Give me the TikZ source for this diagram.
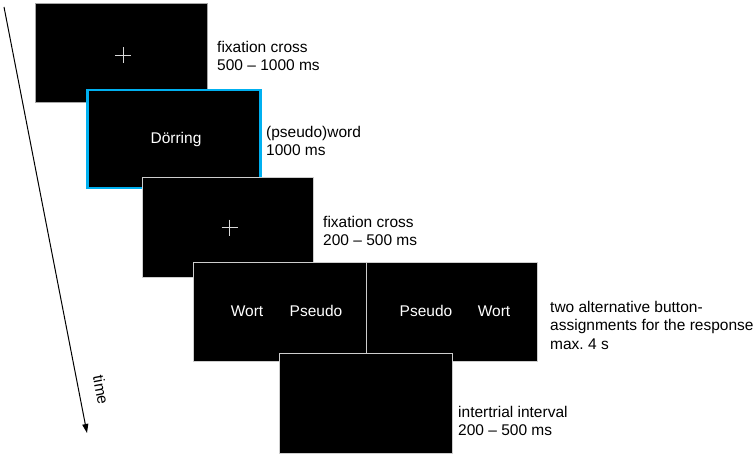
\documentclass[tikz,border=0pt]{standalone}
\usepackage{fontspec}
\setmainfont{Liberation Sans}
\usetikzlibrary{arrows.meta}
\definecolor{scrcyan}{RGB}{0,176,240}
\definecolor{scredge}{RGB}{205,205,205}
\frenchspacing
\tikzset{
  screen/.style={fill=black, draw=scredge, line width=1.2pt, anchor=north west, inner sep=0pt, minimum width=172pt, minimum height=99pt},
  wtext/.style={text=white, font=\fontsize{15.5pt}{18.5pt}\selectfont, inner sep=0pt},
  lab/.style={anchor=west, align=left, inner sep=0pt, font=\fontsize{15.5pt}{18.5pt}\selectfont},
  crossline/.style={draw=white!85!black, line width=1pt},
  timearrow/.style={line width=1pt, -{Triangle[length=9pt,width=6pt]}}
}
\begin{document}
\begin{tikzpicture}[x=1pt,y=-1pt]
\useasboundingbox (0,0) rectangle (755,457);
% screens
\node[screen, draw=gray!70, line width=0.8pt] (s1) at (35,3) {};
\node[screen, draw=scrcyan, line width=2.5pt, minimum width=173pt, minimum height=98pt] (s2) at (86,89) {};
\node[screen, minimum width=171pt, minimum height=100pt] (s3) at (142,177) {};
\node[screen, minimum width=173pt] (s4l) at (193,262) {};
\node[screen, minimum width=171pt] (s4r) at (366,262) {};
\node[screen, minimum width=173pt, minimum height=100pt] (s5) at (279,353) {};
% screen contents
\draw[crossline] (s1.center) ++(2,2.5) +(-8,0) -- +(8,0) +(0,-8) -- +(0,8);
\node[wtext] (w1) at (176,139) {Dörring};
\draw[crossline] (s3.center) ++(1.5,0) +(-8,0) -- +(8,0) +(0,-8) -- +(0,8);
\node[wtext] (w2) at (247,311) {Wort};
\node[wtext] (w3) at (316,311) {Pseudo};
\node[wtext] (w4) at (426,311) {Pseudo};
\node[wtext] (w5) at (494,311) {Wort};
% labels
\node[lab] (l1) at (217,56) {fixation cross\\500 – 1000 ms};
\node[lab] (l2) at (266,141) {(pseudo)word\\1000 ms};
\node[lab] (l3) at (323,231) {fixation cross\\200 – 500 ms};
\node[lab] (l4) at (550,325) {two alternative button-\\assignments for the response\\max. 4 s};
\node[lab] (l5) at (458,421) {intertrial interval\\200 – 500 ms};
% time arrow
\coordinate (t0) at (4,7);
\coordinate (t1) at (87,433);
\draw[timearrow] (t0) -- (t1);
\node[font=\fontsize{15.5pt}{18.5pt}\selectfont, rotate=-79, inner sep=0pt] (tl) at (101,390) {time};
\end{tikzpicture}
\end{document}
